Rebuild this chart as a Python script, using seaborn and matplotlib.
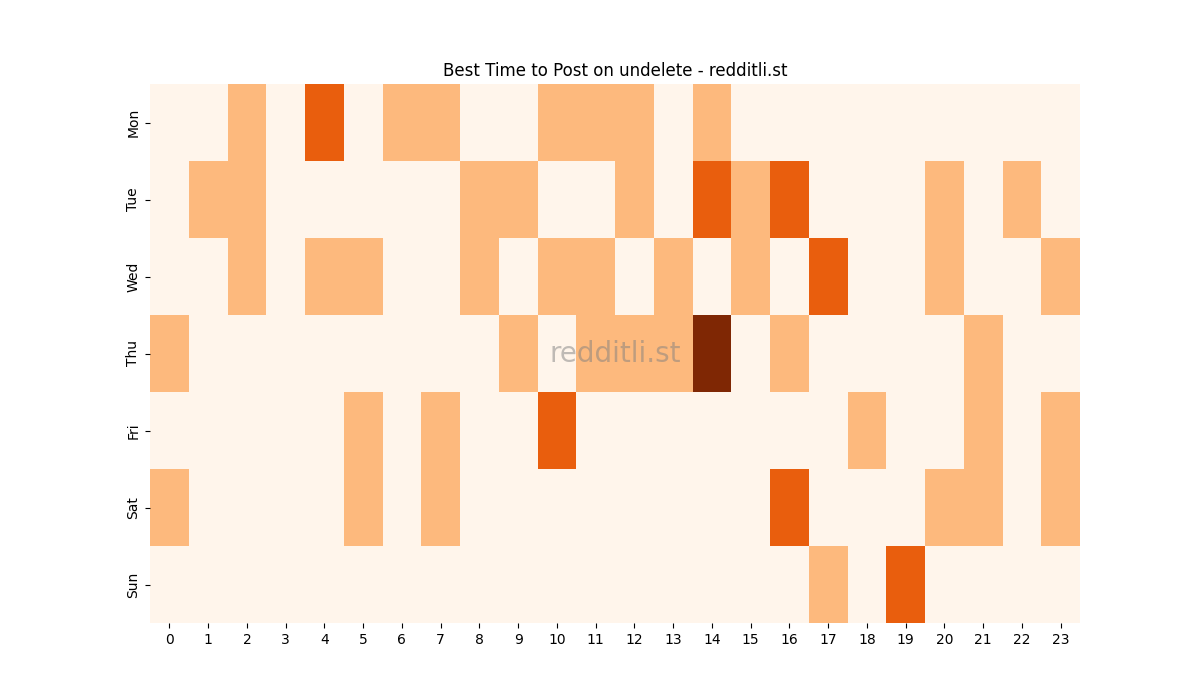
import matplotlib
matplotlib.use("Agg")
import matplotlib.pyplot as plt
import numpy as np
import pandas as pd
import seaborn as sns

days = ["Mon", "Tue", "Wed", "Thu", "Fri", "Sat", "Sun"]
hours = list(range(24))

# post counts per day (rows) and hour (columns)
mon = [0, 0, 1, 0, 2, 0, 1, 1, 0, 0, 1, 1, 1, 0, 1, 0, 0, 0, 0, 0, 0, 0, 0, 0]
tue = [0, 1, 1, 0, 0, 0, 0, 0, 1, 1, 0, 0, 1, 0, 2, 1, 2, 0, 0, 0, 1, 0, 1, 0]
wed = [0, 0, 1, 0, 1, 1, 0, 0, 1, 0, 1, 1, 0, 1, 0, 1, 0, 2, 0, 0, 1, 0, 0, 1]
thu = [1, 0, 0, 0, 0, 0, 0, 0, 0, 1, 0, 1, 1, 1, 3, 0, 1, 0, 0, 0, 0, 1, 0, 0]
fri = [0, 0, 0, 0, 0, 1, 0, 1, 0, 0, 2, 0, 0, 0, 0, 0, 0, 0, 1, 0, 0, 1, 0, 1]
sat = [1, 0, 0, 0, 0, 1, 0, 1, 0, 0, 0, 0, 0, 0, 0, 0, 2, 0, 0, 0, 1, 1, 0, 1]
sun = [0, 0, 0, 0, 0, 0, 0, 0, 0, 0, 0, 0, 0, 0, 0, 0, 0, 1, 0, 2, 0, 0, 0, 0]

counts = pd.DataFrame([mon, tue, wed, thu, fri, sat, sun], index=days, columns=hours)

fig, ax = plt.subplots(figsize=(12, 7), dpi=100)
sns.heatmap(counts, cmap="Oranges", cbar=False, vmin=0, vmax=3, ax=ax)
ax.set_title("Best Time to Post on undelete - redditli.st")
ax.set_xlabel("")
ax.set_ylabel("")
plt.setp(ax.get_yticklabels(), rotation=90, va="center")
plt.setp(ax.get_xticklabels(), rotation=0)
ax.text(0.5, 0.5, "redditli.st", transform=ax.transAxes, ha="center", va="center",
        fontsize=20, color="gray", alpha=0.5)

fig.savefig("out.png", dpi=100)
